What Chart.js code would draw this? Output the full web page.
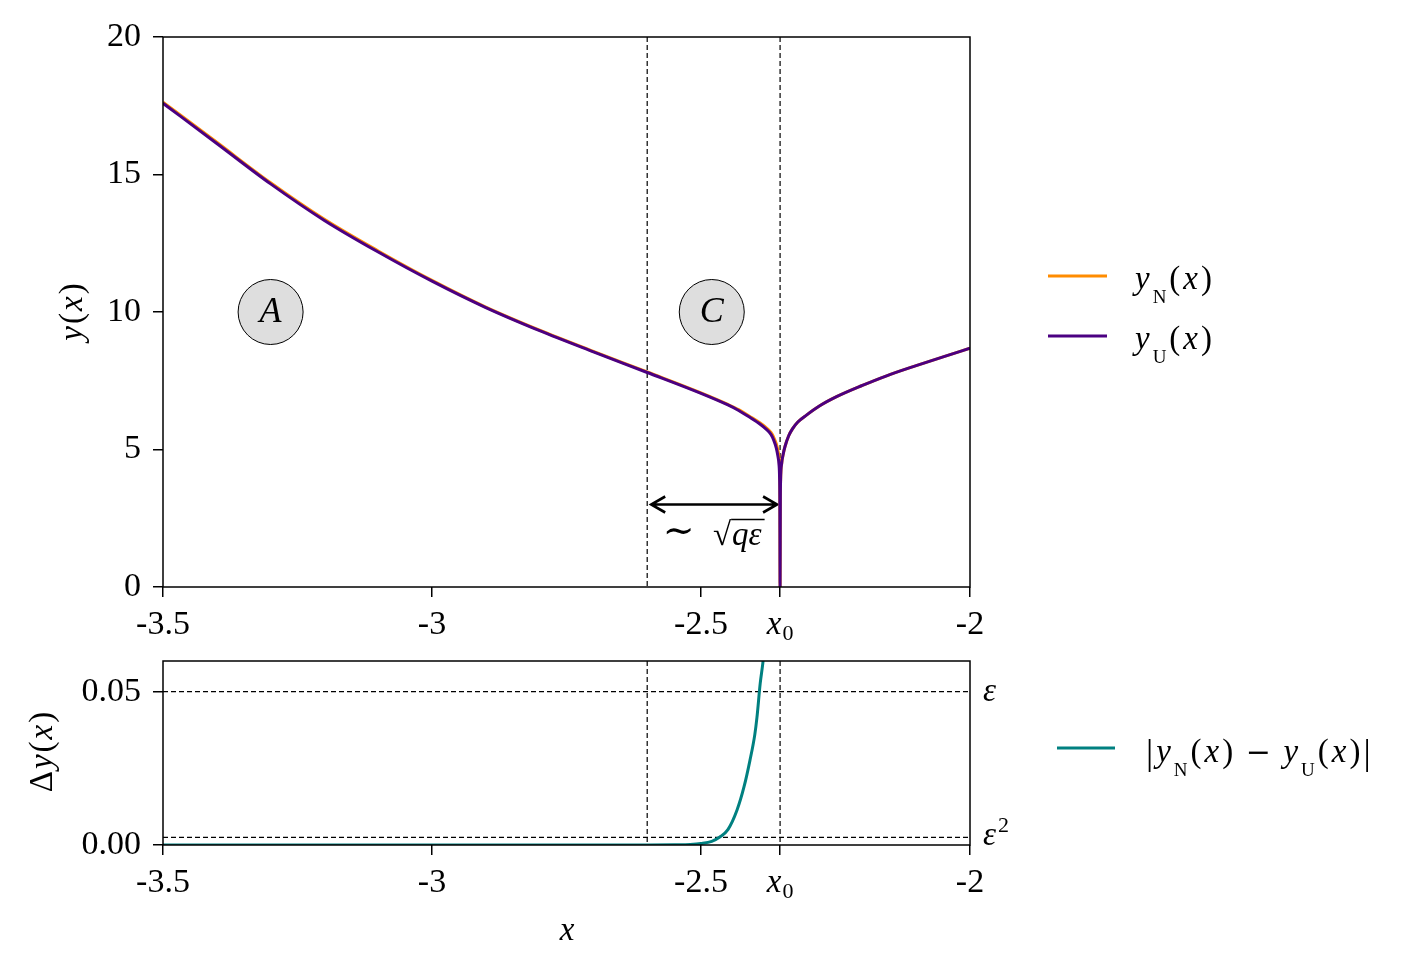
<!DOCTYPE html>
<html lang="en">
<head>
    <meta charset="UTF-8">
    <title>y_N, y_U and their difference</title>
    <script src="https://cdn.jsdelivr.net/npm/chart.js"></script>
    <style>
        body { margin: 0; background: #ffffff; }
        canvas { position: absolute; left: 0; top: 0; }
    </style>
</head>
<body>
    <canvas id="topChart" width="1421" height="971"></canvas>
    <canvas id="bottomChart" width="1421" height="971"></canvas>

    <script>
        // x0 where the solution goes to zero, and the edge of region C
        const X0 = -2.353;
        const X_C = -2.6;
        const EPS = 0.05;

        const xTicks = [-3.5, -3, -2.5, X0, -2];
        const xTickLabels = ['-3.5', '-3', '-2.5', '', '-2'];
        const yTicksTop = [0, 5, 10, 15, 20];
        const yTicksBottom = [0, 0.05];

        // top panel
        const xTop = [-3.5, -3.4, -3.3, -3.2, -3.1, -3.0, -2.9, -2.8, -2.7, -2.6, -2.5, -2.45, -2.43,
            -2.41, -2.39, -2.38, -2.37, -2.365, -2.36, -2.357, -2.355, -2.354, -2.3535, -2.353,
            -2.3525, -2.352, -2.35, -2.347, -2.344, -2.337, -2.33, -2.32, -2.304, -2.28, -2.248,
            -2.2, -2.155, -2.1, -2.05, -2.0];
        const yU = [17.59, 16.13, 14.66, 13.33, 12.18, 11.12, 10.16, 9.32, 8.55, 7.8, 7.04, 6.62, 6.42,
            6.18, 5.92, 5.76, 5.55, 5.35, 5.05, 4.75, 4.45, 4.0, 3.2, 0,
            3.2, 3.9, 4.5, 4.85, 5.1, 5.5, 5.75, 6.0, 6.25, 6.58, 6.92,
            7.33, 7.68, 8.05, 8.37, 8.68];
        const yN = [17.63, 16.17, 14.7, 13.37, 12.22, 11.15, 10.18, 9.34, 8.57, 7.82, 7.06, 6.64, 6.45,
            6.21, 5.96, 5.81, 5.62, 5.45, 5.2, 4.95, 4.7, 4.35, 3.7, 0,
            3.2, 3.9, 4.5, 4.85, 5.1, 5.5, 5.75, 6.0, 6.25, 6.58, 6.92,
            7.33, 7.68, 8.05, 8.37, 8.68];

        // bottom panel |yN - yU|
        const xDiff = [-3.5, -3.0, -2.7, -2.6, -2.55, -2.52, -2.5, -2.48, -2.465, -2.45, -2.433,
            -2.42, -2.409, -2.4, -2.396, -2.39, -2.385, -2.38];
        const yDiff = [0, 0, 0, 0.00003, 0.0001, 0.0002, 0.0005, 0.0012, 0.0026, 0.005, 0.0114,
            0.019, 0.0276, 0.036, 0.0416, 0.0526, 0.0594, 0.068];

        const FAM = '"Liberation Serif", "DejaVu Serif", serif';
        const RM = '33px ' + FAM;
        const IT = 'italic 33px ' + FAM;
        const SUB = '19px ' + FAM;
        const SUP = '22px ' + FAM;
        const OP = '30px "DejaVu Serif", serif';

        function toPoints(xs, ys) {
            return xs.map((x, i) => ({ x: x, y: ys[i] }));
        }

        // draw a run of text pieces [text, font, dy] one after another, gap px between pieces
        function drawRuns(ctx, x, y, runs, align, gap) {
            gap = gap || 0;
            let w = 0;
            runs.forEach(r => { ctx.font = r[1]; w += ctx.measureText(r[0]).width + gap; });
            w -= gap;
            let cx = align === 'center' ? x - w / 2 : x;
            ctx.textAlign = 'left';
            ctx.textBaseline = 'alphabetic';
            const pos = [];
            runs.forEach(r => {
                ctx.font = r[1];
                const rw = ctx.measureText(r[0]).width;
                ctx.fillText(r[0], cx, y + (r[2] || 0));
                pos.push([cx, rw]);
                cx += rw + gap;
            });
            return pos;
        }

        function dashed(ctx, x1, y1, x2, y2) {
            ctx.save();
            ctx.strokeStyle = '#000';
            ctx.lineWidth = 1.2;
            ctx.setLineDash([5, 3]);
            ctx.beginPath();
            ctx.moveTo(x1, y1);
            ctx.lineTo(x2, y2);
            ctx.stroke();
            ctx.restore();
        }

        function legendLine(ctx, x1, x2, y, color) {
            ctx.save();
            ctx.strokeStyle = color;
            ctx.lineWidth = 3;
            ctx.beginPath();
            ctx.moveTo(x1, y);
            ctx.lineTo(x2, y);
            ctx.stroke();
            ctx.restore();
        }

        const frame = {
            id: 'frame',
            afterDatasetsDraw(chart) {
                const a = chart.chartArea;
                const ctx = chart.ctx;
                ctx.save();
                ctx.strokeStyle = '#000';
                ctx.lineWidth = 1.5;
                ctx.strokeRect(a.left, a.top, a.right - a.left, a.bottom - a.top);
                ctx.restore();
            },
            afterDraw(chart) {
                // x0 tick label
                const ctx = chart.ctx;
                const px = chart.scales.x.getPixelForValue(X0);
                const b = chart.chartArea.bottom;
                ctx.save();
                ctx.fillStyle = '#000';
                drawRuns(ctx, px, b + 47, [['x', IT], ['0', SUP, 6]], 'center', 1);
                ctx.restore();
            }
        };

        const topNotes = {
            id: 'topNotes',
            beforeDatasetsDraw(chart) {
                const ctx = chart.ctx;
                const a = chart.chartArea;
                const xs = chart.scales.x, ys = chart.scales.y;
                dashed(ctx, xs.getPixelForValue(X_C), a.top, xs.getPixelForValue(X_C), a.bottom);
                dashed(ctx, xs.getPixelForValue(X0), a.top, xs.getPixelForValue(X0), a.bottom);

                // region markers
                [['A', -3.3], ['C', -2.48]].forEach(m => {
                    const cx = xs.getPixelForValue(m[1]), cy = ys.getPixelForValue(10);
                    ctx.save();
                    ctx.beginPath();
                    ctx.arc(cx, cy, 32.5, 0, Math.PI * 2);
                    ctx.fillStyle = '#dedede';
                    ctx.fill();
                    ctx.strokeStyle = '#000';
                    ctx.lineWidth = 1;
                    ctx.stroke();
                    ctx.fillStyle = '#000';
                    ctx.font = 'italic 36px ' + FAM;
                    ctx.textAlign = 'center';
                    ctx.textBaseline = 'middle';
                    ctx.fillText(m[0], cx, cy + 1);
                    ctx.restore();
                });

                // width arrow
                const l = xs.getPixelForValue(X_C) + 4, r = xs.getPixelForValue(X0) - 3;
                const y = ys.getPixelForValue(3);
                ctx.save();
                ctx.strokeStyle = '#000';
                ctx.lineWidth = 2.6;
                ctx.beginPath();
                ctx.moveTo(l, y); ctx.lineTo(r, y);
                ctx.moveTo(l + 14, y - 8); ctx.lineTo(l, y); ctx.lineTo(l + 14, y + 8);
                ctx.moveTo(r - 14, y - 8); ctx.lineTo(r, y); ctx.lineTo(r - 14, y + 8);
                ctx.stroke();
                ctx.fillStyle = '#000';
                const pos = drawRuns(ctx, (l + r) / 2 - 2, y + 40,
                    [['\u223C', '38px ' + FAM, -2], ['  ', RM], ['\u221A', RM], ['q\u03B5', IT]], 'center', 1);
                const q = pos[3];
                ctx.lineWidth = 1.4;
                ctx.beginPath();
                ctx.moveTo(q[0] - 1, y + 15);
                ctx.lineTo(q[0] + q[1] + 3, y + 15);
                ctx.stroke();
                ctx.restore();
            },
            afterDraw(chart) {
                const ctx = chart.ctx;
                ctx.save();
                ctx.fillStyle = '#000';
                // y label
                ctx.translate(72, 312);
                ctx.rotate(-Math.PI / 2);
                drawRuns(ctx, 0, 10, [['y', IT], ['(', RM], ['x', IT], [')', RM]], 'center', 2);
                ctx.restore();

                ctx.save();
                ctx.fillStyle = '#000';
                legendLine(ctx, 1048, 1107, 276, '#ff8c00');
                drawRuns(ctx, 1135, 289, [['y', IT], ['N', SUB, 14], ['(', RM], ['x', IT], [')', RM]], 'left', 3);
                legendLine(ctx, 1048, 1107, 336, '#4b0082');
                drawRuns(ctx, 1135, 349, [['y', IT], ['U', SUB, 14], ['(', RM], ['x', IT], [')', RM]], 'left', 3);
                ctx.restore();
            }
        };

        const bottomNotes = {
            id: 'bottomNotes',
            beforeDatasetsDraw(chart) {
                const ctx = chart.ctx;
                const a = chart.chartArea;
                const xs = chart.scales.x, ys = chart.scales.y;
                dashed(ctx, xs.getPixelForValue(X_C), a.top, xs.getPixelForValue(X_C), a.bottom);
                dashed(ctx, xs.getPixelForValue(X0), a.top, xs.getPixelForValue(X0), a.bottom);
                dashed(ctx, a.left, ys.getPixelForValue(EPS), a.right, ys.getPixelForValue(EPS));
                dashed(ctx, a.left, ys.getPixelForValue(EPS * EPS), a.right, ys.getPixelForValue(EPS * EPS));
            },
            afterDraw(chart) {
                const ctx = chart.ctx;
                const ys = chart.scales.y;
                ctx.save();
                ctx.fillStyle = '#000';
                drawRuns(ctx, 983, ys.getPixelForValue(EPS) + 9, [['\u03B5', IT]]);
                drawRuns(ctx, 983, ys.getPixelForValue(EPS * EPS) + 8, [['\u03B5', IT], ['2', SUP, -13]], 'left', 2);
                drawRuns(ctx, 567, 940, [['x', IT]], 'center');

                legendLine(ctx, 1057, 1115, 748, '#008080');
                drawRuns(ctx, 1146, 762, [['|', '36px ' + FAM, 2], ['y', IT], ['N', SUB, 14], ['(', RM], ['x', IT], [')', RM],
                    [' \u2212 ', OP], ['y', IT], ['U', SUB, 14], ['(', RM], ['x', IT], [')', RM], ['|', '36px ' + FAM, 2]], 'left', 3);

                ctx.translate(42, 752);
                ctx.rotate(-Math.PI / 2);
                drawRuns(ctx, 0, 10, [['\u0394', RM], ['y', IT], ['(', RM], ['x', IT], [')', RM]], 'center', 2);
                ctx.restore();
            }
        };

        function xScale() {
            return {
                type: 'linear', min: -3.5, max: -2,
                afterBuildTicks: s => { s.ticks = xTicks.map(v => ({ value: v })); },
                afterFit: s => { s.height = 63; },
                ticks: {
                    callback: (v, i) => xTickLabels[i],
                    font: { family: FAM, size: 34 }, color: '#000',
                    padding: 8, maxRotation: 0, autoSkip: false
                },
                grid: { drawOnChartArea: false, drawTicks: true, tickLength: 10, color: '#000', lineWidth: 1.5 },
                border: { display: false }
            };
        }

        function yScale(min, max, ticks, fmt) {
            return {
                min: min, max: max,
                afterBuildTicks: s => { s.ticks = ticks.map(v => ({ value: v })); },
                afterFit: s => { s.width = 163; },
                ticks: {
                    callback: v => fmt(v),
                    font: { family: FAM, size: 34 }, color: '#000', padding: 12
                },
                grid: { drawOnChartArea: false, drawTicks: true, tickLength: 10, color: '#000', lineWidth: 1.5 },
                border: { display: false }
            };
        }

        const lineStyle = { borderWidth: 3, pointRadius: 0, clip: 0, cubicInterpolationMode: 'monotone' };

        new Chart(document.getElementById('topChart').getContext('2d'), {
            type: 'line',
            data: {
                datasets: [
                    Object.assign({ label: 'yU', data: toPoints(xTop, yU), borderColor: '#4b0082' }, lineStyle),
                    Object.assign({ label: 'yN', data: toPoints(xTop, yN), borderColor: '#ff8c00' }, lineStyle)
                ]
            },
            options: {
                responsive: false,
                animation: false,
                layout: { padding: { top: 37, right: 451, bottom: 321, left: 0 } },
                plugins: { legend: { display: false }, tooltip: { enabled: false } },
                scales: {
                    x: xScale(),
                    y: yScale(0, 20, yTicksTop, v => String(v))
                }
            },
            plugins: [frame, topNotes]
        });

        new Chart(document.getElementById('bottomChart').getContext('2d'), {
            type: 'line',
            data: {
                datasets: [
                    Object.assign({ label: 'diff', data: toPoints(xDiff, yDiff), borderColor: '#008080' }, lineStyle)
                ]
            },
            options: {
                responsive: false,
                animation: false,
                layout: { padding: { top: 661, right: 451, bottom: 63, left: 0 } },
                plugins: { legend: { display: false }, tooltip: { enabled: false } },
                scales: {
                    x: xScale(),
                    y: yScale(0, 0.06, yTicksBottom, v => v.toFixed(2))
                }
            },
            plugins: [frame, bottomNotes]
        });
    </script>
</body>
</html>
